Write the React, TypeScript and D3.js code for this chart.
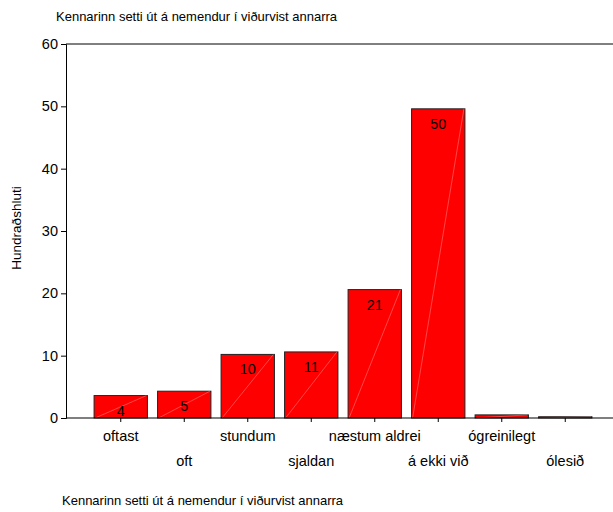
import React, { useEffect, useRef } from 'react';
import * as d3 from 'd3';

const categories = ['oftast', 'oft', 'stundum', 'sjaldan', 'næstum aldrei', 'á ekki við', 'ógreinilegt', 'ólesið'];
const values = [3.6, 4.3, 10.2, 10.6, 20.6, 49.6, 0.5, 0.2];
const barLabels = ['4', '5', '10', '11', '21', '50', '', ''];
const yTicks = [0, 10, 20, 30, 40, 50, 60];
const title = 'Kennarinn setti út á nemendur í viðurvist annarra';

const App = () => {
  const ref = useRef<SVGSVGElement>(null);

  useEffect(() => {
    const svg = d3.select(ref.current);
    svg.selectAll('*').remove();
    const W = 613, H = 512;
    const font = 'Liberation Sans, Arial, sans-serif';

    const x = d3.scaleBand().domain(categories).range([89, 597]).paddingInner(0.16).paddingOuter(0.08);
    const y = d3.scaleLinear().domain([0, 60]).range([418, 44]);

    svg.append('rect').attr('width', W).attr('height', H).attr('fill', '#fff');

    svg.append('text').attr('x', 56).attr('y', 21).attr('font-family', font).attr('font-size', 13).text(title);
    svg.append('text').attr('x', 62).attr('y', 505).attr('font-family', font).attr('font-size', 13).text(title);

    // y axis
    const ya = svg.append('g').attr('transform', 'translate(66,0)')
      .call(d3.axisLeft(y).tickValues(yTicks).tickSize(5).tickPadding(3));
    ya.select('.domain').attr('stroke', '#000');
    ya.selectAll('text').attr('font-family', font).attr('font-size', 14.5).attr('fill', '#000');

    svg.append('text')
      .attr('transform', `translate(21,228) rotate(-90)`)
      .attr('text-anchor', 'middle').attr('font-family', font).attr('font-size', 13.5).text('Hundraðshluti');

    // frame lines
    svg.append('line').attr('x1', 66).attr('x2', W).attr('y1', y(60)).attr('y2', y(60)).attr('stroke', '#000');

    // bars
    const g = svg.append('g');
    categories.forEach((c, i) => {
      const x0 = x(c)!, bw = x.bandwidth(), top = y(values[i]);
      g.append('rect').attr('x', x0).attr('y', top).attr('width', bw).attr('height', y(0) - top)
        .attr('fill', '#ff0000').attr('stroke', '#222').attr('stroke-width', 1);
      g.append('line').attr('x1', x0 + 1).attr('y1', y(0)).attr('x2', x0 + bw - 1).attr('y2', top)
        .attr('stroke', '#fff').attr('stroke-opacity', 0.35).attr('stroke-width', 0.8);
      if (barLabels[i]) {
        g.append('text').attr('x', x0 + bw / 2).attr('y', top + 20).attr('text-anchor', 'middle')
          .attr('font-family', font).attr('font-size', 14.5).text(barLabels[i]);
      }
    });

    // x axis
    svg.append('line').attr('x1', 66).attr('x2', W).attr('y1', y(0)).attr('y2', y(0)).attr('stroke', '#000').attr('stroke-width', 1.2);
    categories.forEach((c, i) => {
      const cx = x(c)! + x.bandwidth() / 2;
      svg.append('line').attr('x1', cx).attr('x2', cx).attr('y1', y(0)).attr('y2', y(0) + 4).attr('stroke', '#000');
      svg.append('text').attr('x', cx).attr('y', i % 2 === 0 ? 441 : 466).attr('text-anchor', 'middle')
        .attr('font-family', font).attr('font-size', 14.5).text(c);
    });
  }, []);

  return <svg ref={ref} width={613} height={512} style={{ position: 'absolute', left: 0, top: 0 }}></svg>;
};

export default App;
